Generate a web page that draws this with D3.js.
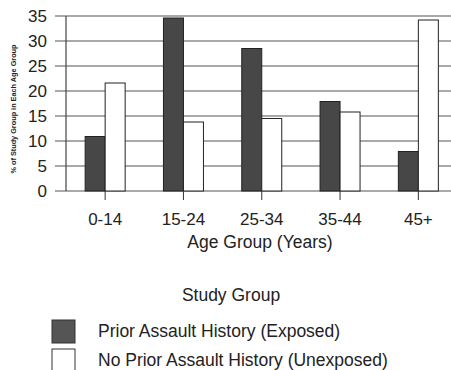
<!DOCTYPE html>
<html><head><meta charset="utf-8">
<script src="https://cdn.jsdelivr.net/npm/d3@7/dist/d3.min.js"></script>
<style>body{margin:0;background:#fff}svg{display:block;font-family:"Liberation Sans",Arial,sans-serif}</style>
</head><body><svg id="c" width="451" height="370"></svg>
<script>
const categories = ["0-14","15-24","25-34","35-44","45+"];
const exposed = [10.9, 34.6, 28.5, 17.9, 7.9];
const unexposed = [21.6, 13.8, 14.5, 15.8, 34.2];
const yTicks = [0,5,10,15,20,25,30,35];
const seriesNames = ["Prior Assault History (Exposed)","No Prior Assault History (Unexposed)"];

const svg = d3.select("#c");
const mLeft = 66, mTop = 16, mBottom = 191, bandW = 78.3;
const x = d3.scaleBand().domain(categories).range([mLeft, mLeft + bandW*categories.length]).paddingInner(0).paddingOuter(0);
const y = d3.scaleLinear().domain([0,35]).range([mBottom, mTop]);
const barW = 20;

// gridlines
svg.append("g").selectAll("line").data(yTicks).join("line")
  .attr("x1", 55).attr("x2", 451).attr("y1", d=>y(d)).attr("y2", d=>y(d))
  .attr("stroke", "#555").attr("stroke-width", 1.2);
// left axis line
svg.append("line").attr("x1", mLeft).attr("x2", mLeft).attr("y1", mTop).attr("y2", mBottom)
  .attr("stroke", "#444").attr("stroke-width", 1.2);

// y tick labels
svg.append("g").selectAll("text").data(yTicks).join("text")
  .attr("x", 47).attr("y", d=>y(d)).attr("dy", "0.36em").attr("text-anchor","end")
  .attr("font-size", 17).attr("fill","#222").text(d=>d);

// bars
const g = svg.append("g");
categories.forEach((c,i)=>{
  const cx = x(c) + x.bandwidth()/2;
  g.append("rect").attr("x", cx - barW).attr("width", barW)
    .attr("y", y(exposed[i])).attr("height", y(0)-y(exposed[i]))
    .attr("fill", "#474747").attr("stroke","#222").attr("stroke-width",1);
  g.append("rect").attr("x", cx).attr("width", barW)
    .attr("y", y(unexposed[i])).attr("height", y(0)-y(unexposed[i]))
    .attr("fill", "#fff").attr("stroke","#222").attr("stroke-width",1);
});

// x tick marks
svg.append("g").selectAll("line").data(categories).join("line")
  .attr("x1", d=>x(d)+x.bandwidth()/2).attr("x2", d=>x(d)+x.bandwidth()/2)
  .attr("y1", mBottom).attr("y2", mBottom+9).attr("stroke","#333").attr("stroke-width",1);
// x tick labels
svg.append("g").selectAll("text").data(categories).join("text")
  .attr("x", d=>x(d)+x.bandwidth()/2).attr("y", 225).attr("text-anchor","middle")
  .attr("font-size", 17).attr("fill","#222").text(d=>d);

svg.append("text").attr("x", 260).attr("y", 248).attr("text-anchor","middle")
  .attr("font-size", 17.5).attr("fill","#222").text("Age Group (Years)");

svg.append("text").attr("transform","translate(16,109) rotate(-90)").attr("text-anchor","middle")
  .attr("font-size", 7.3).attr("font-weight","bold").attr("fill","#222").text("% of Study Group in Each Age Group");

// legend
svg.append("text").attr("x", 231).attr("y", 301).attr("text-anchor","middle")
  .attr("font-size", 17.5).attr("fill","#222").text("Study Group");
const lg = svg.append("g");
seriesNames.forEach((n,i)=>{
  const yy = 320 + i*29;
  lg.append("rect").attr("x", 52).attr("y", yy).attr("width", 23).attr("height", 23)
    .attr("fill", i===0 ? "#555" : "#fff").attr("stroke","#333").attr("stroke-width",1);
  lg.append("text").attr("x", 98).attr("y", yy+17).attr("font-size", 17.5).attr("fill","#222").text(n);
});
</script></body></html>
